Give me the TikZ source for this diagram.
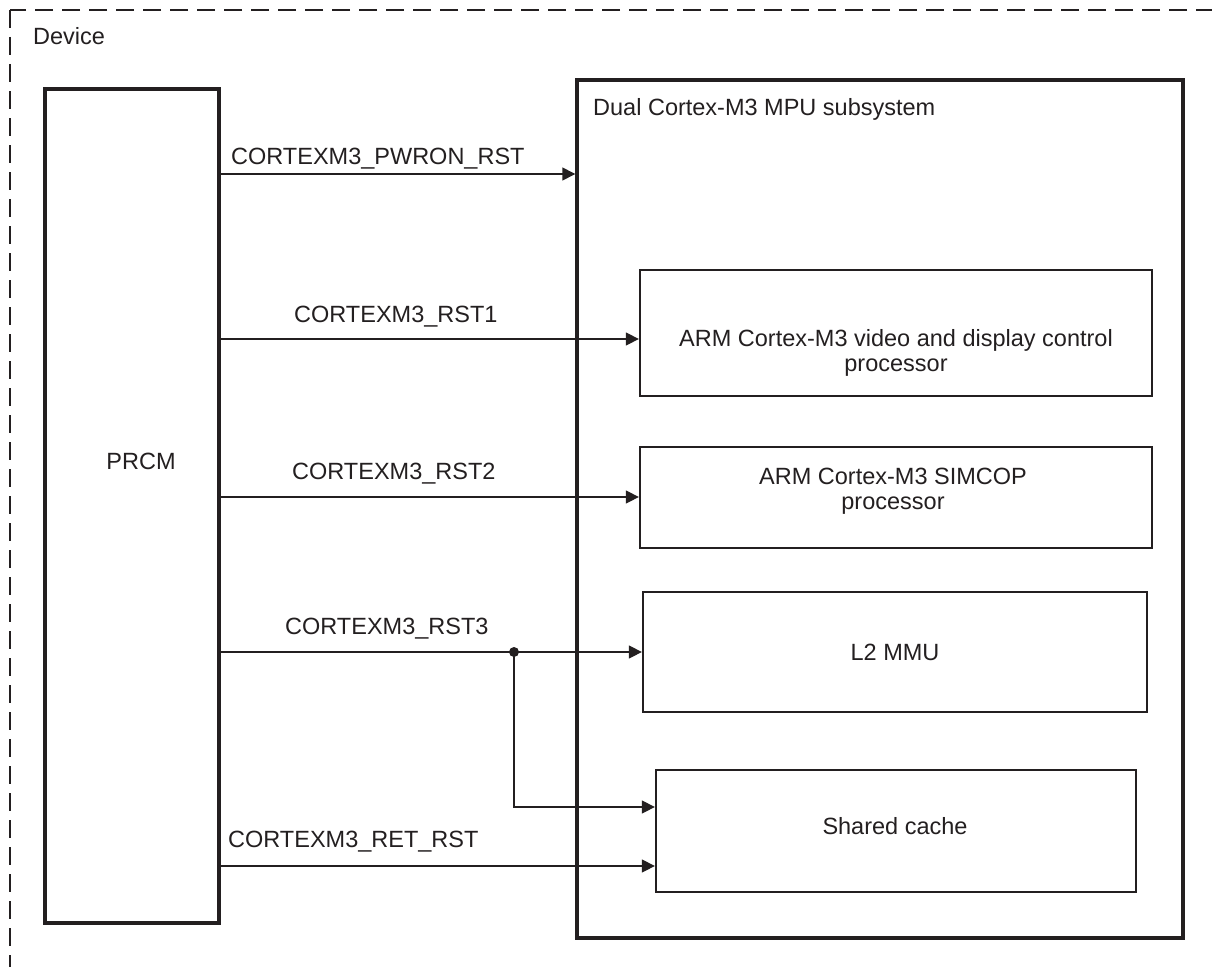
\documentclass[tikz,border=0pt]{standalone}
\usepackage{fontspec}
\setmainfont{Liberation Sans}
\usepackage{xcolor}
\usetikzlibrary{arrows.meta, positioning, calc}
\definecolor{trait}{HTML}{231F20}
\tikzset{
  cadre/.style={draw=trait, dash pattern=on 18pt off 9pt, line width=2.6pt},
  sousys/.style={rectangle, draw=trait, line width=3.4pt, inner sep=0pt},
  bloc/.style={rectangle, draw=trait, line width=2.3pt, inner sep=0pt},
  texte/.style={font=\fontsize{23.5}{25}\selectfont, text=trait, align=center, inner sep=0pt},
  signal/.style={texte, anchor=base west},
  fleche/.style={-{Triangle[length=13pt, width=13pt]}, line width=1.4pt, color=trait}
}

\begin{document}
\begin{tikzpicture}[x=1pt, y=-1pt]
    \useasboundingbox (0,0) rectangle (1212,966);

    % Frontiere du composant
    \draw[cadre] (10,10) rectangle (1230,985);
    \node[signal] (device) at (33,45) {Device};

    % Blocs
    \node[sousys, minimum width=174, minimum height=834] (prcm) at (132,506) {};
    \node[texte] (prcmtxt) at (141,461) {PRCM};
    \node[sousys, minimum width=606, minimum height=858] (mpu) at (880,509) {};
    \node[signal] (mputxt) at (593,115) {Dual Cortex-M3 MPU subsystem};

    \node[bloc, minimum width=512, minimum height=126] (vdc) at (896,333) {};
    \node[texte] (vdctxt) at (896,353) {ARM Cortex-M3 video and display control\\processor};
    \node[bloc, minimum width=512, minimum height=101] (simcop) at (896,497.5) {};
    \node[texte] (simcoptxt) at (893,491) {ARM Cortex-M3 SIMCOP\\processor};
    \node[bloc, minimum width=504, minimum height=120] (mmu) at (895,652) {};
    \node[texte] (mmutxt) at (895,652) {L2 MMU};
    \node[bloc, minimum width=480, minimum height=122] (cache) at (896,831) {};
    \node[texte] (cachetxt) at (895,826) {Shared cache};

    % Niveaux des signaux
    \coordinate (ypwr) at (0,174);
    \coordinate (yrst1) at (0,339);
    \coordinate (yrst2) at (0,497);
    \coordinate (yrst3) at (0,652);
    \coordinate (ycache) at (0,807);
    \coordinate (yret) at (0,866);
    \coordinate (noeud) at (514,652);

    % Resets
    \draw[fleche] (prcm.east |- ypwr) -- (mpu.west |- ypwr);
    \node[signal] (lpwr) at (231,164) {CORTEXM3\_PWRON\_RST};
    \draw[fleche] (prcm.east |- yrst1) -- (vdc.west |- yrst1);
    \node[signal] (lrst1) at (294,322) {CORTEXM3\_RST1};
    \draw[fleche] (prcm.east |- yrst2) -- (simcop.west |- yrst2);
    \node[signal] (lrst2) at (292,479) {CORTEXM3\_RST2};
    \draw[fleche] (prcm.east |- yrst3) -- (mmu.west |- yrst3);
    \node[signal] (lrst3) at (285,634) {CORTEXM3\_RST3};
    \fill[trait] (noeud) circle (5);
    \draw[fleche] (noeud) |- (cache.west |- ycache);
    \draw[fleche] (prcm.east |- yret) -- (cache.west |- yret);
    \node[signal] (lret) at (228,847) {CORTEXM3\_RET\_RST};
\end{tikzpicture}
\end{document}
